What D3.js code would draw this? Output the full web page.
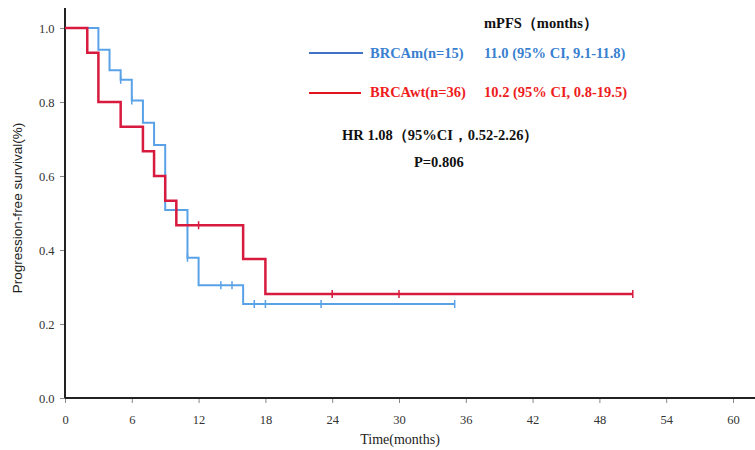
<!DOCTYPE html>
<html>
<head>
<meta charset="utf-8">
<script src="https://cdn.jsdelivr.net/npm/d3@7/dist/d3.min.js"></script>
<style>
  body { margin: 0; background: #fff; }
  svg { display: block; }
</style>
</head>
<body>
<div id="chart"></div>
<script>
// Kaplan-Meier steps (months, survival)
const brcamTimes = [0, 3, 4, 5, 6, 7, 8, 9, 11, 12, 16, 35];
const brcamSurv  = [1.0, 0.941, 0.886, 0.86, 0.804, 0.744, 0.684, 0.508, 0.379, 0.305, 0.254, 0.254];
const brcamCensor = [5, 6, 10, 11, 14, 15, 17, 18, 23, 35];

const brcawtTimes = [0, 2, 3, 5, 7, 8, 9, 10, 16, 18, 51];
const brcawtSurv  = [1.0, 0.933, 0.8, 0.733, 0.667, 0.6, 0.533, 0.467, 0.376, 0.281, 0.281];
const brcawtCensor = [12, 24, 30, 51];

const xTicks = [0, 6, 12, 18, 24, 30, 36, 42, 48, 54, 60];
const yTicks = [0, 0.2, 0.4, 0.6, 0.8, 1.0];

const width = 755, height = 450;

const svg = d3.select("#chart").append("svg")
    .attr("width", width)
    .attr("height", height);

const x = d3.scaleLinear().domain([0, 60]).range([65, 733]);
const y = d3.scaleLinear().domain([0, 1]).range([398, 28]);

const serif = "'Liberation Serif', 'Times New Roman', serif";

// axes
const xAxis = svg.append("g")
    .attr("transform", `translate(0,${y(0)})`)
    .call(d3.axisBottom(x).tickValues(xTicks).tickSize(5).tickFormat(d3.format("d")));
xAxis.select(".domain").remove();
xAxis.selectAll(".tick line").attr("stroke", "#888");
xAxis.selectAll("text")
    .attr("dy", "1.4em")
    .style("font-family", serif)
    .style("font-size", "12.5px")
    .attr("fill", "#333");

const yAxis = svg.append("g")
    .attr("transform", `translate(${x(0)},0)`)
    .call(d3.axisLeft(y).tickValues(yTicks).tickSize(5).tickFormat(d3.format(".1f")));
yAxis.select(".domain").remove();
yAxis.selectAll(".tick line").attr("stroke", "#888");
yAxis.selectAll("text")
    .attr("dx", "-0.2em")
    .style("font-family", serif)
    .style("font-size", "12.5px")
    .attr("fill", "#333");

// axis lines
svg.append("line")
    .attr("x1", x(0)).attr("x2", width)
    .attr("y1", y(0)).attr("y2", y(0))
    .attr("stroke", "#222").attr("stroke-width", 2);
svg.append("line")
    .attr("x1", x(0)).attr("x2", x(0))
    .attr("y1", 8).attr("y2", y(0))
    .attr("stroke", "#222").attr("stroke-width", 2);

// axis titles
svg.append("text")
    .attr("x", 400).attr("y", 444)
    .attr("text-anchor", "middle")
    .style("font-family", serif)
    .style("font-size", "14px")
    .attr("fill", "#222")
    .text("Time(months)");

svg.append("text")
    .attr("transform", "translate(22,208) rotate(-90)")
    .attr("text-anchor", "middle")
    .style("font-family", "'Liberation Sans', Arial, sans-serif")
    .style("font-size", "13.5px")
    .attr("fill", "#222")
    .text("Progression-free survival(%)");

// KM curves
const line = d3.line()
    .x(d => x(d[0]))
    .y(d => y(d[1]))
    .curve(d3.curveStepAfter);

function survAt(times, surv, t) {
    let s = surv[0];
    for (let i = 0; i < times.length; i++) if (times[i] <= t) s = surv[i];
    return s;
}

function drawCurve(times, surv, censor, color, w) {
    const pts = times.map((t, i) => [t, surv[i]]);
    svg.append("path")
        .datum(pts)
        .attr("fill", "none")
        .attr("stroke", color)
        .attr("stroke-width", w)
        .attr("d", line);
    svg.selectAll(null)
        .data(censor)
        .enter()
        .append("line")
        .attr("x1", d => x(d)).attr("x2", d => x(d))
        .attr("y1", d => y(survAt(times, surv, d)) - 4)
        .attr("y2", d => y(survAt(times, surv, d)) + 4)
        .attr("stroke", color)
        .attr("stroke-width", 1.5);
}

drawCurve(brcamTimes, brcamSurv, brcamCensor, "#5aa2e8", 2);
drawCurve(brcawtTimes, brcawtSurv, brcawtCensor, "#d81a3e", 2.5);

// legend / annotations
function label(tx, ty, str, color) {
    svg.append("text")
        .attr("x", tx).attr("y", ty)
        .style("font-family", serif)
        .style("font-weight", "bold")
        .style("font-size", "14.5px")
        .attr("fill", color)
        .text(str);
}

label(484, 28, "mPFS（months）", "#111");

svg.append("line")
    .attr("x1", 309).attr("x2", 363).attr("y1", 53).attr("y2", 53)
    .attr("stroke", "#3f72c4").attr("stroke-width", 2);
label(370, 58, "BRCAm(n=15)", "#3a7fd0");
label(484, 58, "11.0 (95% CI, 9.1-11.8)", "#3a7fd0");

svg.append("line")
    .attr("x1", 309).attr("x2", 361).attr("y1", 93).attr("y2", 93)
    .attr("stroke", "#e3141e").attr("stroke-width", 2);
label(370, 97, "BRCAwt(n=36)", "#ee1c1c");
label(484, 97, "10.2 (95% CI, 0.8-19.5)", "#ee1c1c");

label(342, 140, "HR 1.08（95%CI，0.52-2.26）", "#111");
label(414, 167, "P=0.806", "#111");
</script>
</body>
</html>
